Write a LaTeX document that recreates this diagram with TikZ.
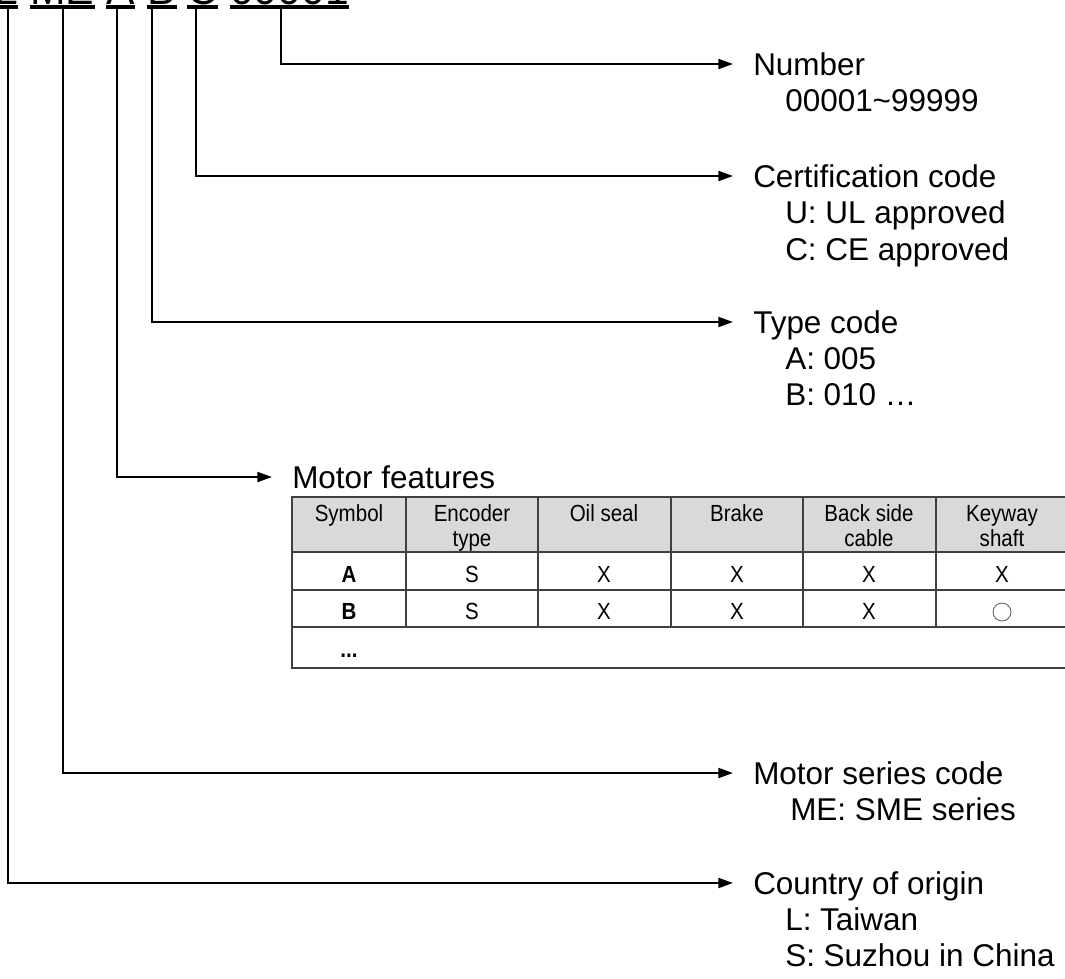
\documentclass[tikz,border=0pt]{standalone}
\usepackage{fontspec}
\usepackage{graphicx}
\setmainfont{Liberation Sans}
\usetikzlibrary{arrows.meta}
\definecolor{tabline}{HTML}{404040}
\definecolor{hdrfill}{HTML}{D9D9D9}
\newcommand{\nrw}[1]{\scalebox{0.88}[1]{#1}}
\begin{document}
\begin{tikzpicture}[x=0.75pt,y=-0.75pt,
  arr/.style={line width=1.5pt,-{Triangle[length=11pt,width=7.5pt]}},
  head/.style={anchor=west,inner xsep=15pt,inner ysep=0pt,text height=16.5pt,text depth=0pt,font=\fontsize{23.6pt}{28pt}\selectfont},
  sub/.style={anchor=base west,inner sep=0pt,font=\fontsize{23.6pt}{28pt}\selectfont},
  code/.style={anchor=base west,inner sep=0pt,font=\fontsize{32pt}{38pt}\selectfont},
  grid/.style={draw=tabline,line width=1pt},
  cell/.style={anchor=base,inner sep=0pt,font=\fontsize{17.5pt}{20pt}\selectfont},
  bcell/.style={cell,font=\fontsize{17.5pt}{20pt}\selectfont\bfseries},
]
\useasboundingbox (0,0) rectangle (1065,979);
\clip (0,0) rectangle (1065,979);

% model code (mostly cut off at the top)
\node[code] (cL) at (-6,4) {L};
\node[code] (cME) at (30,4) {ME};
\node[code] (cA) at (106,4) {A};
\node[code] (cB) at (147,4) {B};
\node[code] (cC) at (187,4) {C};
\node[code] (cN) at (230,4) {00001};
\fill (-6,5) rectangle (18,9);
\fill (30,5) rectangle (95,9);
\fill (106,5) rectangle (135,9);
\fill (147,5) rectangle (177,9);
\fill (187,5) rectangle (218,9);
\fill (230,5) rectangle (349,9);

\coordinate (vL) at (8,9);
\coordinate (vME) at (63,9);
\coordinate (vA) at (117,9);
\coordinate (vB) at (152,9);
\coordinate (vC) at (196,9);
\coordinate (vN) at (281,9);

% labels
\node[head] (hNum) at (733,64) {Number};
\node[sub] (sNum) at (785,111) {00001\textasciitilde99999};
\node[head] (hCert) at (733,176) {Certification code};
\node[sub] (sU) at (785,223) {U: UL approved};
\node[sub] (sCE) at (785,260) {C: CE approved};
\node[head] (hType) at (733,322) {Type code};
\node[sub] (sA) at (785,369) {A: 005};
\node[sub] (sB) at (785,405) {B: 010 …};
\node[head] (hMF) at (272,477) {Motor features};
\node[head] (hMS) at (733,773) {Motor series code};
\node[sub] (sME) at (790,820) {ME: SME series};
\node[head] (hCO) at (733,883) {Country of origin};
\node[sub] (sL) at (785,930) {L: Taiwan};
\node[sub] (sS) at (785,966) {S: Suzhou in China};

% connectors
\draw[arr] (vN) |- (hNum.west);
\draw[arr] (vC) |- (hCert.west);
\draw[arr] (vB) |- (hType.west);
\draw[arr] (vA) |- (hMF.west);
\draw[arr] (vME) |- (hMS.west);
\draw[arr] (vL) |- (hCO.west);

% table
\fill[hdrfill] (292,497) rectangle (1068,552);
\draw[grid] (292,552) -- (1068,552);
\draw[grid] (292,590) -- (1068,590);
\draw[grid] (292,627) -- (1068,627);
\foreach \cx in {406,538,671,803,936}{\draw[grid] (\cx,497) -- (\cx,627);}
\draw[draw=tabline,line width=1.5pt] (292,497) rectangle (1068,668);

\node[cell] (t1) at (349,521) {\nrw{Symbol}};
\node[cell] (t2) at (472,521) {\nrw{Encoder}};
\node[cell] (t2b) at (472,546) {\nrw{type}};
\node[cell] (t3) at (604,521) {\nrw{Oil seal}};
\node[cell] (t4) at (737,521) {\nrw{Brake}};
\node[cell] (t5) at (869,521) {\nrw{Back side}};
\node[cell] (t5b) at (869,546) {\nrw{cable}};
\node[cell] (t6) at (1002,521) {\nrw{Keyway}};
\node[cell] (t6b) at (1002,546) {\nrw{shaft}};

\node[bcell] (a1) at (349,582) {\nrw{A}};
\node[cell] (a2) at (472,582) {\nrw{S}};
\node[cell] (a3) at (604,582) {\nrw{X}};
\node[cell] (a4) at (737,582) {\nrw{X}};
\node[cell] (a5) at (869,582) {\nrw{X}};
\node[cell] (a6) at (1002,582) {\nrw{X}};

\node[bcell] (b1) at (349,619) {\nrw{B}};
\node[cell] (b2) at (472,619) {\nrw{S}};
\node[cell] (b3) at (604,619) {\nrw{X}};
\node[cell] (b4) at (737,619) {\nrw{X}};
\node[cell] (b5) at (869,619) {\nrw{X}};
\node[circle,draw=black!65,line width=0.6pt,minimum size=13.5pt,inner sep=0pt] (b6) at (1002,612) {};

\node[bcell] (dots) at (349,657) {\nrw{...}};
\end{tikzpicture}
\end{document}
